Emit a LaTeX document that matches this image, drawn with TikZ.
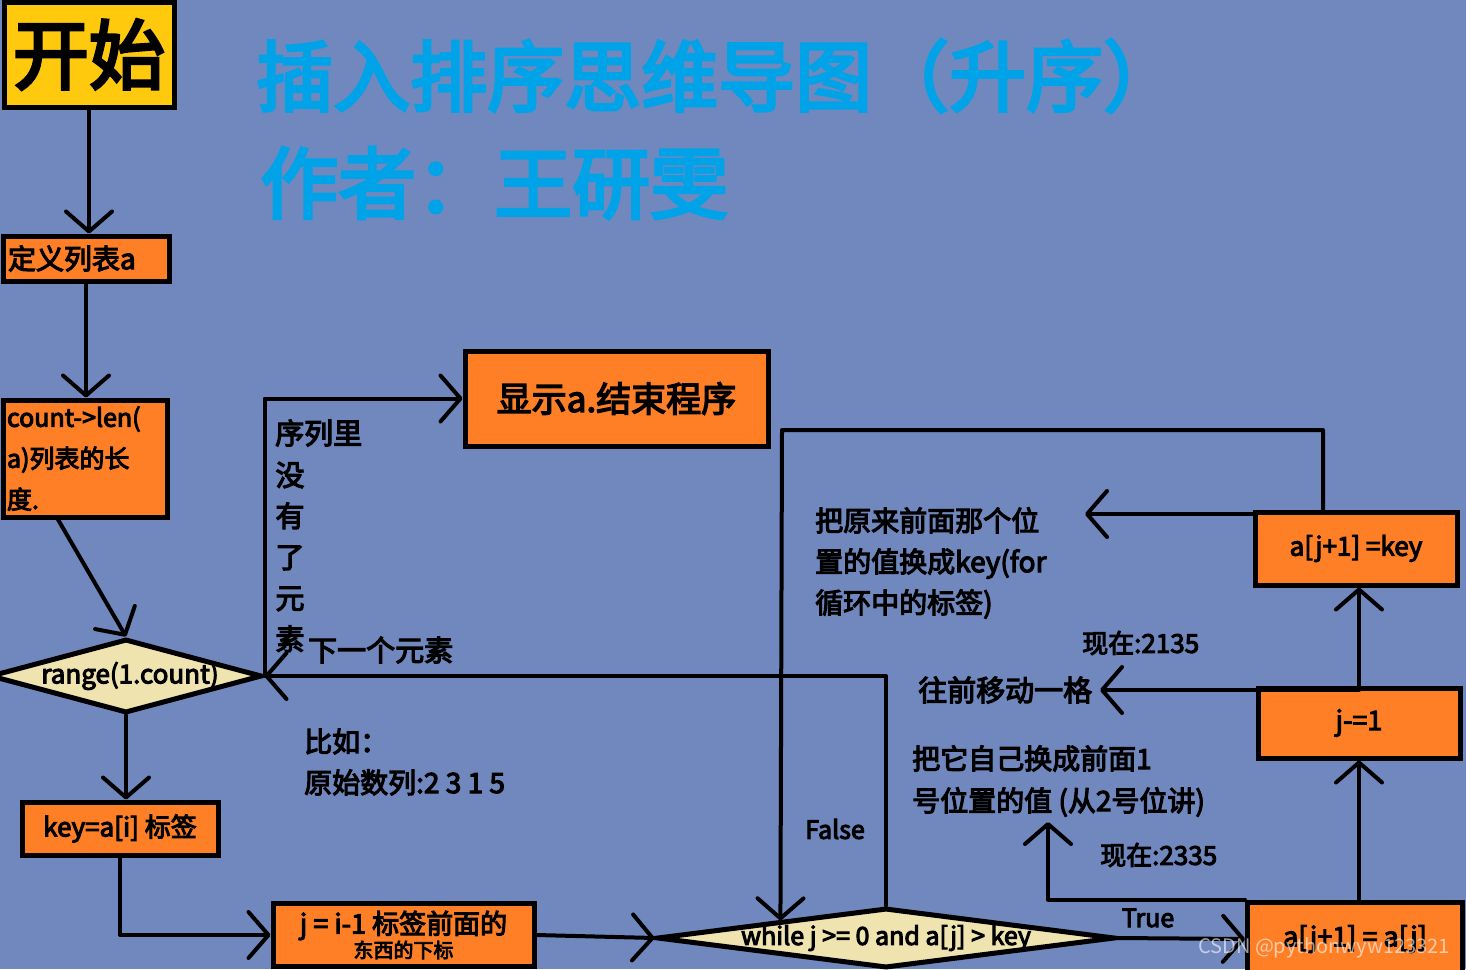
\documentclass[tikz,border=0pt]{standalone}
\usepackage{fontspec}
\setmainfont{Noto Sans CJK SC}[AutoFakeBold=4]
\usetikzlibrary{arrows.meta,shapes.geometric,calc}
\definecolor{bg}{HTML}{7088BE}
\definecolor{orng}{HTML}{FF7F27}
\definecolor{yel}{HTML}{FFC90E}
\definecolor{cream}{HTML}{EFE4B0}
\definecolor{ttl}{HTML}{00A2E8}
\newcommand\myfs[2]{\fontsize{#1}{#2}\selectfont}
\tikzset{
  conn/.style={line width=4pt, line cap=round, line join=round, draw=black},
  arr/.style={conn, -{Straight Barb[length=20pt,width=46pt,round]}},
  obox/.style={draw=black, line width=5pt, fill=orng, inner sep=0pt, font=\bfseries},
  dia/.style={diamond, draw=black, line width=5pt, fill=cream, inner sep=0pt},
  lbl/.style={inner sep=0pt, font=\bfseries, text=black}
}
\begin{document}
\begin{tikzpicture}[x=1pt,y=-1pt]
\fill[bg] (0,0) rectangle (1466,969);
\useasboundingbox (0,0) rectangle (1466,969);

% title
\node[lbl, text=ttl, anchor=west, font=\bfseries\myfs{77}{80}] (title) at (256,76) {插入排序思维导图（升序）};
\node[lbl, text=ttl, anchor=west, font=\bfseries\myfs{78}{80}] (author) at (260,183) {作者：王研雯};

% boxes
\node[obox, fill=yel, minimum width=170pt, minimum height=105pt, font=\bfseries\myfs{76}{80}] (start) at (89,54.5) {开始};
\node[obox, minimum width=166pt, minimum height=45pt, text width=156pt, align=left, font=\bfseries\myfs{28}{30}] (def) at (86,258.5) {定义列表a};
\node[obox, minimum width=164pt, minimum height=117pt, text width=156pt, align=left, font=\bfseries\myfs{25}{41}] (count) at (85,458.5) {count->len(\\a)列表的长\\度.};
\node[dia, minimum width=272pt, minimum height=74pt] (range) at (126,676) {};
\node[lbl, font=\bfseries\myfs{26}{28}] (rangetxt) at ([xshift=4pt]range.center) {range(1.count)};
\node[obox, minimum width=303pt, minimum height=95pt, font=\bfseries\myfs{35}{38}] (disp) at (616.5,398.5) {显示a.结束程序};
\node[obox, minimum width=196pt, minimum height=53pt, font=\bfseries\myfs{26}{28}] (key) at (120,828.5) {key=a[i] 标签};
\node[obox, minimum width=261pt, minimum height=63pt, align=center, font=\bfseries\myfs{27}{26}] (jb) at (403.5,935) {j = i-1 标签前面的\\[-2pt]{\myfs{20}{22}东西的下标}};
\node[dia, minimum width=458pt, minimum height=60pt] (while) at (886,938) {};
\node[lbl, font=\bfseries\myfs{25}{28}] (whiletxt) at (while) {while j >= 0 and a[j] > key};
\node[obox, minimum width=215pt, minimum height=74pt, font=\bfseries\myfs{27}{30}] (ajj) at (1355,939) {a[j+1] = a[j]};
\node[obox, minimum width=202pt, minimum height=70pt, font=\bfseries\myfs{27}{30}] (jm) at (1359,723) {j-=1};
\node[obox, minimum width=202pt, minimum height=73pt, font=\bfseries\myfs{26}{30}] (key2) at (1356,548.5) {a[j+1] =key};

% free coordinates
\coordinate (lt) at (782,430);
\coordinate (t1) at (1085,514);
\coordinate (t2) at (1100,690);
\coordinate (t3) at (1048,822);

% connectors
\draw[arr] (start.south) -- (start.south |- def.north);
\draw[arr] (def.south) -- (def.south |- count.north);
\draw[arr] ([xshift=-27pt]count.south) -- (range.north);
\draw[arr] (range.east) |- (disp.west);
\draw[arr] (range.south) -- (range.south |- key.north);
\draw[arr] (key.south) |- (jb.west);
\draw[arr] (jb.east) -- (while.west);
\draw[arr] (while.north) |- (range.east);
\draw[arr] (while.east) -- (ajj.west);
\draw[arr] (jm.south |- ajj.north) -- (jm.south);
\draw[arr] (jm.north) -- (jm.north |- key2.south);
\draw[arr] ([xshift=-33pt]key2.north) |- (lt) -- ($(while.north west)!0.088!(while.north)$);
\draw[arr] (t1 -| key2.west) -- (t1);
\draw[arr] (t2 -| jm.north) -- (t2);
\draw[arr] (ajj.north west) -| (t3);

% labels
\node[lbl, anchor=west, font=\bfseries\myfs{29}{32}] (seq) at (275,433) {序列里};
\node[lbl, align=center, font=\bfseries\myfs{29}{41}] (vert) at (290,557) {没\\有\\了\\元\\素};
\node[lbl, anchor=west, font=\bfseries\myfs{29}{32}] (next) at (308,650) {下一个元素};
\node[lbl, anchor=west, align=left, font=\bfseries\myfs{28}{41}] (eg) at (304,762) {比如：\\原始数列:2 3 1 5};
\node[lbl, font=\bfseries\myfs{25}{28}] (false) at (835,829) {False};
\node[lbl, anchor=west, align=left, font=\bfseries\myfs{28}{41}] (n1) at (815,563) {把原来前面那个位\\置的值换成key(for\\循环中的标签)};
\node[lbl, anchor=west, font=\bfseries\myfs{26}{28}] (now1) at (1082,643) {现在:2135};
\node[lbl, anchor=west, font=\bfseries\myfs{29}{32}] (n2) at (918,690) {往前移动一格};
\node[lbl, anchor=west, align=left, font=\bfseries\myfs{28}{42}] (n3) at (912,781) {把它自己换成前面1\\号位置的值 (从2号位讲)};
\node[lbl, anchor=west, font=\bfseries\myfs{26}{28}] (now2) at (1100,855) {现在:2335};
\node[lbl, font=\bfseries\myfs{25}{28}] (true) at (1148,918) {True};
\node[inner sep=0pt, anchor=east, text=white, opacity=0.6, font=\myfs{20}{22}] (wm) at (1450,948) {CSDN @pythonwyw123321};
\end{tikzpicture}
\end{document}
